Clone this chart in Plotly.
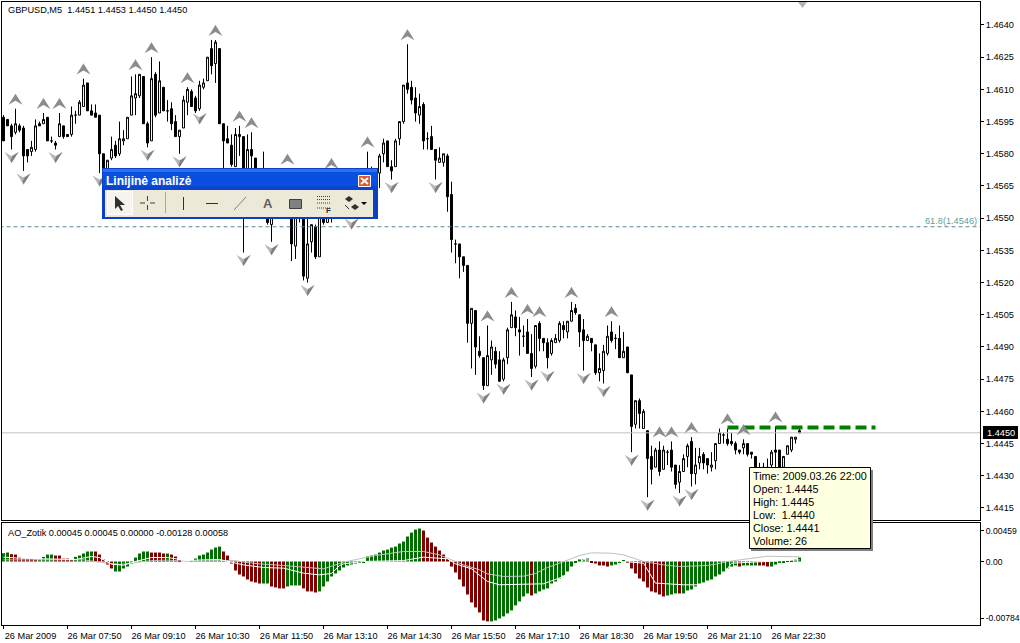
import plotly.graph_objects as go

W, H = 1020, 643

# OHLC in 1/10000 price units, one row per 5-minute bar
opens = [14597,14596,14593,14590,14593,14592,14582,14581,14582,14594,14594,14597,14586,14585,14588,14593,14589,14589,14598,14598,
14602,14613,14600,14599,14598,14580,14568,14578,14584,14580,14586,14587,14598,14606,14607,14616,14594,14586,14617,14599,
14611,14600,14601,14595,14588,14592,14604,14609,14606,14601,14611,14614,14629,14622,14629,14594,14587,14584,14574,14588,
14588,14565,14582,14578,14566,14560,14556,14547,14556,14562,14558,14560,14562,14537,14556,14552,14522,14539,14546,14532,
14556,14548,14556,14560,14554,14560,14556,14556,14562,14566,14562,14568,14572,14566,14571,14580,14586,14574,14574,14587,
14595,14613,14611,14606,14598,14603,14587,14588,14582,14576,14576,14579,14561,14538,14538,14532,14528,14501,14507,14488,
14485,14472,14484,14488,14484,14475,14485,14499,14504,14498,14495,14497,14487,14481,14501,14494,14492,14487,14492,14493,
14500,14497,14502,14508,14505,14498,14493,14494,14491,14478,14479,14487,14497,14494,14494,14485,14490,14477,14454,14465,
14452,14451,14439,14434,14442,14433,14441,14442,14435,14427,14432,14439,14446,14431,14436,14440,14438,14434,14437,14445,
14449,14447,14446,14445,14442,14443,14445,14441,14439,14432,14431,14434,14435,14442,14442,14434,14440,14442,14447,14451]
highs = [14598,14596,14594,14601,14594,14593,14582,14586,14596,14595,14599,14597,14588,14586,14599,14593,14589,14602,14600,14605,
14615,14613,14603,14603,14598,14580,14577,14588,14586,14595,14591,14597,14616,14617,14617,14616,14595,14625,14618,14623,
14611,14605,14604,14598,14591,14607,14611,14610,14607,14614,14615,14625,14633,14633,14629,14594,14593,14589,14592,14593,
14588,14589,14590,14578,14572,14581,14562,14560,14566,14570,14566,14573,14568,14560,14562,14556,14551,14547,14547,14556,
14564,14562,14571,14567,14562,14566,14562,14566,14570,14572,14570,14581,14574,14572,14580,14587,14586,14577,14587,14595,
14612,14631,14614,14611,14608,14604,14590,14593,14582,14583,14580,14580,14567,14540,14538,14532,14528,14508,14507,14495,
14485,14500,14493,14490,14488,14485,14499,14511,14507,14504,14500,14503,14496,14500,14502,14494,14494,14494,14496,14502,
14502,14502,14511,14510,14505,14503,14496,14494,14491,14487,14491,14500,14502,14496,14500,14497,14490,14477,14465,14466,
14461,14451,14444,14443,14446,14444,14442,14446,14435,14435,14440,14445,14448,14443,14443,14441,14438,14441,14445,14452,
14450,14452,14450,14446,14442,14447,14445,14441,14439,14436,14436,14438,14442,14453,14442,14439,14444,14448,14448,14453]
lows = [14586,14593,14582,14589,14590,14572,14576,14579,14581,14593,14594,14586,14585,14582,14588,14587,14588,14588,14594,14598,
14602,14600,14598,14597,14571,14565,14564,14577,14578,14579,14584,14587,14598,14598,14606,14594,14583,14586,14597,14599,
14600,14595,14591,14588,14580,14592,14598,14602,14599,14600,14610,14614,14617,14613,14594,14573,14585,14574,14574,14579,
14534,14560,14570,14562,14556,14552,14547,14539,14552,14556,14552,14556,14530,14531,14548,14521,14520,14534,14531,14532,
14547,14548,14548,14552,14552,14554,14552,14551,14556,14560,14558,14562,14564,14562,14564,14576,14574,14568,14574,14584,
14594,14608,14603,14595,14594,14582,14582,14582,14568,14576,14574,14553,14534,14529,14522,14525,14492,14480,14477,14485,
14470,14472,14477,14480,14474,14474,14482,14499,14495,14486,14490,14487,14476,14480,14488,14488,14480,14486,14492,14492,
14494,14494,14502,14505,14490,14479,14493,14488,14477,14474,14473,14486,14492,14489,14485,14485,14478,14441,14452,14452,
14452,14420,14426,14434,14430,14433,14435,14432,14424,14422,14432,14434,14425,14426,14433,14433,14431,14432,14433,14445,
14445,14444,14444,14440,14440,14440,14439,14438,14430,14428,14428,14430,14432,14433,14432,14432,14440,14441,14445,14450]
closes = [14586,14593,14588,14594,14591,14579,14579,14583,14593,14593,14596,14586,14586,14584,14594,14588,14588,14598,14598,14604,
14612,14600,14598,14597,14580,14573,14577,14582,14579,14587,14587,14597,14607,14608,14617,14594,14585,14615,14598,14614,
14600,14600,14594,14588,14591,14605,14610,14602,14600,14612,14613,14625,14621,14632,14594,14586,14585,14575,14589,14589,
14565,14582,14579,14566,14560,14565,14548,14556,14562,14558,14560,14566,14538,14556,14552,14523,14538,14547,14532,14555,
14548,14556,14560,14554,14560,14556,14554,14562,14566,14562,14568,14572,14566,14570,14579,14585,14574,14572,14586,14595,
14612,14610,14605,14599,14602,14586,14587,14582,14577,14578,14580,14560,14540,14538,14532,14528,14501,14508,14490,14486,
14472,14486,14490,14482,14474,14484,14498,14505,14499,14497,14495,14487,14480,14500,14494,14492,14485,14493,14494,14501,
14498,14502,14507,14506,14497,14493,14495,14492,14478,14480,14488,14495,14493,14494,14485,14488,14478,14453,14465,14459,
14460,14438,14433,14442,14432,14442,14441,14434,14426,14432,14438,14444,14431,14435,14439,14436,14435,14435,14445,14450,
14449,14445,14445,14442,14441,14445,14440,14440,14432,14430,14434,14432,14441,14441,14434,14439,14444,14448,14448,14450]

# Bill Williams fractals: bars carrying an up / a down arrow
fractal_up = [3,10,14,20,33,37,46,53,59,62,71,82,91,101,121,127,131,134,142,152,164,167,172,181,185,193]
fractal_down = [2,5,13,24,36,44,49,60,67,76,87,97,108,120,125,132,136,145,150,157,161,169,172]

# AO_Zotik histogram in 1e-5 units, with the colour code of each column
ao_values = [111,120,98,93,53,40,40,40,27,27,62,93,93,80,80,40,40,27,62,80,
107,134,134,134,93,27,-40,-93,-134,-134,-93,-67,-27,53,107,134,134,120,120,120,
107,107,93,67,13,0,0,13,40,80,93,120,160,187,200,134,80,-27,-120,-174,
-200,-240,-267,-280,-294,-294,-294,-334,-347,-360,-360,-334,-320,-320,-320,-360,-400,-400,-414,-400,
-334,-267,-200,-160,-120,-80,-53,-40,-27,-13,-13,67,80,93,120,147,160,187,200,240,
267,334,387,427,441,414,320,254,200,147,93,40,-67,-147,-240,-334,-441,-547,-614,-681,
-788,-801,-801,-788,-761,-734,-694,-654,-587,-534,-467,-427,-454,-427,-400,-374,-360,-294,-267,-227,
-187,-134,-67,-13,27,27,40,-13,-27,-53,-53,-67,-53,-40,-13,13,-13,-93,-160,-227,
-267,-347,-400,-414,-441,-467,-454,-441,-427,-427,-427,-387,-374,-334,-294,-280,-254,-240,-200,-174,
-134,-93,-67,-53,-67,-53,-53,-53,-53,-53,-53,-67,-67,-40,-13,-13,4,13,27,53]
ao_red_bars = [2,3,4,5,6,7,8,13,14,15,16,17,23,24,25,26,27,37,38,39,40,42,43,44,55,56,57,58,59,60,61,62,63,64,67,68,69,70,75,76,77,78,
105,106,107,108,109,110,111,112,113,114,115,116,117,118,119,120,121,132,147,148,149,150,151,156,157,158,159,160,161,162,163,164,165,169,184,189,190,191]
ao_codes = ["R" if k in ao_red_bars else "G" for k in range(len(ao_values))]

# The two indicator lines, sampled where they can be read
silver_bars = [0,20,24,27,29,32,37,41,47,54,58,60,64,70,75,80,84,85,89,93,100,105,109,112,115,119,121,125,130,133,136,139,142,144,147,152,155,160,165,169,176,178,181,186,191,199]
silver_vals = [22,22,-9,-27,-40,-22,13,18,0,13,13,-9,-31,-53,-80,-98,-27,-9,36,80,134,134,89,18,-45,-111,-165,-200,-196,-160,-80,-22,36,80,116,111,89,0,-45,-67,-53,-36,0,40,71,62]
white_bars = [0,4,10,18,22,24,27,30,33,37,41,46,50,54,60,65,70,75,79,82,84,85,90,100,105,111,113,117,121,124,135,140,145,155,160,163,170,178,182,199]
white_vals = [58,45,36,27,67,53,-36,-49,0,53,53,13,22,27,-45,-80,-89,-156,-178,-160,-53,-31,0,13,58,36,-31,-98,-267,-311,-298,-200,22,0,-22,-289,-311,-311,-22,22]

time_ticks = [0,16,32,48,64,80,96,112,128,144,160,176,192]
time_labels = ["26 Mar 2009","26 Mar 07:50","26 Mar 09:10","26 Mar 10:30","26 Mar 11:50","26 Mar 13:10","26 Mar 14:30",
               "26 Mar 15:50","26 Mar 17:10","26 Mar 18:30","26 Mar 19:50","26 Mar 21:10","26 Mar 22:30"]
price_ticks = [1.4415,1.4430,1.4445,1.4460,1.4475,1.4490,1.4505,1.4520,1.4535,1.4550,1.4565,1.4580,1.4595,1.4610,1.4625,1.4640]
ao_ticks = [0.0041,0.0,-0.0076]
ao_tick_labels = ["0.00459","0.00","-0.00784"]
bid_price = 1.4450
fibo_price = 1.4546
trend_bars = [181,218]
trend_prices = [1.44525,1.44525]
tooltip_lines = ["Time: 2009.03.26 22:00","Open: 1.4445","High: 1.4445","Low:  1.4440","Close: 1.4441","Volume: 26"]

FONT = "Liberation Sans"
CHART_SIZE = 9.2
bars = list(range(len(opens)))
p = lambda seq: [v / 10000 for v in seq]
O, Hi, Lo, C = p(opens), p(highs), p(lows), p(closes)

fig = go.Figure()
fig.add_trace(go.Scatter(x=[-1, 300], y=[bid_price]*2, mode="lines", line=dict(color="#c0c0c0", width=1),
                         xaxis="x2", yaxis="y", hoverinfo="skip"))
fig.add_trace(go.Scatter(x=[-1, 300], y=[fibo_price]*2, mode="lines", line=dict(color="#4f8e90", width=1, dash="4px,3px"),
                         xaxis="x2", yaxis="y", hoverinfo="skip"))
fig.add_trace(go.Candlestick(x=bars, open=O, high=Hi, low=Lo, close=C, xaxis="x2", yaxis="y", whiskerwidth=0,
    increasing=dict(line=dict(color="#000000", width=1), fillcolor="#ffffff"),
    decreasing=dict(line=dict(color="#000000", width=1), fillcolor="#000000")))
fig.add_trace(go.Scatter(x=fractal_up, y=[Hi[i] + 0.00070 for i in fractal_up], mode="markers", xaxis="x2", yaxis="y",
    marker=dict(symbol="arrow", size=7, color="#8c8c8c", angle=0, line=dict(width=0))))
fig.add_trace(go.Scatter(x=fractal_down, y=[Lo[i] - 0.00063 for i in fractal_down], mode="markers", xaxis="x2", yaxis="y",
    marker=dict(symbol="arrow", size=7, color="#808080", angle=180, line=dict(width=0))))
fig.add_trace(go.Scatter(x=trend_bars, y=trend_prices, mode="lines", xaxis="x2", yaxis="y",
    line=dict(color="#008000", width=4, dash="11px,5px")))

fig.add_trace(go.Bar(x=bars, y=[v / 1e5 for v in ao_values], width=0.75, xaxis="x", yaxis="y2",
    marker=dict(color=["#006e00" if c == "G" else "#800000" for c in ao_codes], line=dict(width=0))))
fig.add_trace(go.Scatter(x=silver_bars, y=[v / 1e5 for v in silver_vals], mode="lines", xaxis="x", yaxis="y2",
    line=dict(color="#c0c0c0", width=1)))
fig.add_trace(go.Scatter(x=white_bars, y=[v / 1e5 for v in white_vals], mode="lines", xaxis="x", yaxis="y2",
    line=dict(color="#ffffff", width=1)))

xr = [-0.375, 244.125]
tickfont = dict(family=FONT, size=CHART_SIZE, color="#000000")
axis_common = dict(showgrid=False, zeroline=False, showline=True, linecolor="#000000", linewidth=1, mirror=True, automargin=False)

def py(y):
    return 1 - y / H
def px(x):
    return x / W

shapes, ann = [], []

# Fractal arrowheads: fixed pixel glyphs anchored on the bar and price of each fractal
def glyph(k, price, path, color):
    shapes.append(dict(type="path", xref="x2", yref="y", xsizemode="pixel", ysizemode="pixel",
                       xanchor=k, yanchor=price, path=path, fillcolor=color, line=dict(width=0), layer="above"))
for k in fractal_up:
    glyph(k, Hi[k] + 0.00042, "M 0 6 L 7 -5 L 0 -1 L -7 -5 Z", "#8c8c8c")
for k in fractal_down:
    glyph(k, Lo[k] - 0.00035, "M 0 -6 L 7 5 L 0 1 L -7 5 Z", "#b8b8b8")
    glyph(k, Lo[k] - 0.00035, "M 0 -6 L 7 5 L 1 1 L -1 -3 Z", "#808080")

def rect(x0, y0, x1, y1, fill, line=None, lw=1):
    shapes.append(dict(type="rect", xref="paper", yref="paper", x0=px(x0), x1=px(x1), y0=py(y0), y1=py(y1),
                       fillcolor=fill, line=dict(color=line or fill, width=lw if line else 0), layer="above"))
def seg(x0, y0, x1, y1, color, lw=1, dash=None):
    shapes.append(dict(type="line", xref="paper", yref="paper", x0=px(x0), x1=px(x1), y0=py(y0), y1=py(y1),
                       line=dict(color=color, width=lw, dash=dash or "solid"), layer="above"))
def poly(points, color):
    d = "M " + " L ".join(f"{px(a):.5f},{py(b):.5f}" for a, b in points) + " Z"
    shapes.append(dict(type="path", xref="paper", yref="paper", path=d, fillcolor=color, line=dict(color=color, width=0), layer="above"))
def text(x, y, s, size=CHART_SIZE, color="#000000", anchor="left", bold=False):
    ann.append(dict(xref="paper", yref="paper", x=px(x), y=py(y), text=f"<b>{s}</b>" if bold else s, showarrow=False,
                    xanchor=anchor, yanchor="middle", align="left", font=dict(family=FONT, size=size, color=color),
                    borderpad=0))

# chart-window furniture
poly([(798, 2), (807, 2), (802.5, 8)], "#b4b4b4")
text(7, 10, "GBPUSD,M5&nbsp;&nbsp;1.4451 1.4453 1.4450 1.4450")
text(7, 533, "AO_Zotik 0.00045 0.00045 0.00000 -0.00128 0.00058")
text(978, 221, "61.8(1.4546)", CHART_SIZE, "#5f9ea0", "right")
rect(983, 426, 1018, 439, "#000000")
text(986, 432.5, "1.4450", CHART_SIZE, "#ffffff")

# tooltip
rect(751, 470, 873, 551, "#808080")
rect(749.5, 467.5, 870.5, 548.5, "#ffffe1", "#000000")
for line, yy in zip(tooltip_lines, [476, 489, 502, 515, 528, 541]):
    text(752, yy, line.replace("  ", "&nbsp;&nbsp;"), 10.8)

# floating toolbar
rect(102, 168, 378, 219, "#0b3fc4")
rect(103, 169, 377, 172, "#2a72ee")
rect(103, 172, 377, 186, "#0a50e0")
rect(103, 186, 377, 190, "#0a43cc")
rect(105, 190, 373, 217, "#ece9d8")
rect(107.5, 191.5, 132.5, 214.5, "#f6f4ec", "#ffffff")
text(105, 181, "Linijinė analizė", 12, "#ffffff", bold=True)
rect(358.5, 175.5, 370.5, 186.5, "#e0562f", "#ffffff")
seg(361, 178, 368, 184, "#ffffff", 2)
seg(368, 178, 361, 184, "#ffffff", 2)
poly([(115, 196), (115, 209), (118, 206), (121, 211), (123, 210), (120, 205), (125, 205)], "#303030")
seg(140, 203, 145, 203, "#404040"); seg(150, 203, 155, 203, "#404040")
seg(147.5, 196, 147.5, 201, "#404040"); seg(147.5, 205, 147.5, 210, "#404040")
seg(165.5, 192, 165.5, 213, "#a8a898")
seg(183.5, 197, 183.5, 210, "#303030")
seg(206, 203.5, 218, 203.5, "#303030")
seg(234, 210, 246, 197, "#808080")
text(267.5, 203.5, "A", 13, "#606060", "center", bold=True)
rect(289.5, 199.5, 301.5, 208.5, "#808080", "#404040")
for yy in (196.5, 199.5, 203, 208):
    seg(317, yy, 330, yy, "#404040", 1, "1px,1px")
text(328, 210, "F", 8, "#303030", "center", bold=True)
poly([(345, 199), (349, 196), (353, 199), (349, 202)], "#303030")
poly([(351, 207), (355, 204), (359, 207), (355, 210)], "#303030")
seg(345, 205, 349, 209, "#303030")
poly([(361, 202), (367, 202), (364, 205)], "#000000")

fig.update_layout(
    width=W, height=H, autosize=False, margin=dict(l=0, r=0, t=0, b=0, pad=0),
    paper_bgcolor="#ffffff", plot_bgcolor="#ffffff", showlegend=False, barmode="overlay",
    xaxis=dict(domain=[px(2), px(980)], range=xr, anchor="y2", tickmode="array", tickvals=time_ticks, ticktext=time_labels, tickangle=0,
               ticks="outside", ticklen=3, tickcolor="#000000", tickfont=tickfont, ticklabelshift=27, ticklabelstandoff=-1,
               ticklabeloverflow="allow", **axis_common),
    xaxis2=dict(domain=[px(2), px(980)], range=xr, anchor="y", showticklabels=False, ticks="", rangeslider=dict(visible=False),
                matches="x", **axis_common),
    yaxis=dict(domain=[py(520), py(2)], range=[1.44094, 1.46507], anchor="x2", side="right", tickmode="array",
               tickvals=price_ticks, ticktext=[f"{v:.4f}" for v in price_ticks], ticks="outside", ticklen=3,
               tickcolor="#000000", tickfont=tickfont, ticklabeloverflow="allow", **axis_common),
    yaxis2=dict(domain=[py(625), py(523)], range=[-0.00849, 0.00515], anchor="x", side="right", tickmode="array",
                tickvals=ao_ticks, ticktext=ao_tick_labels, ticks="outside", ticklen=3, tickcolor="#000000",
                tickfont=dict(family=FONT, size=8.6, color="#000000"), ticklabeloverflow="allow", **axis_common),
    shapes=shapes, annotations=ann, hovermode=False,
)
fig.write_html("out.html", config=dict(displayModeBar=False),
               post_script="document.body.style.margin='0';document.body.style.overflow='hidden';")
